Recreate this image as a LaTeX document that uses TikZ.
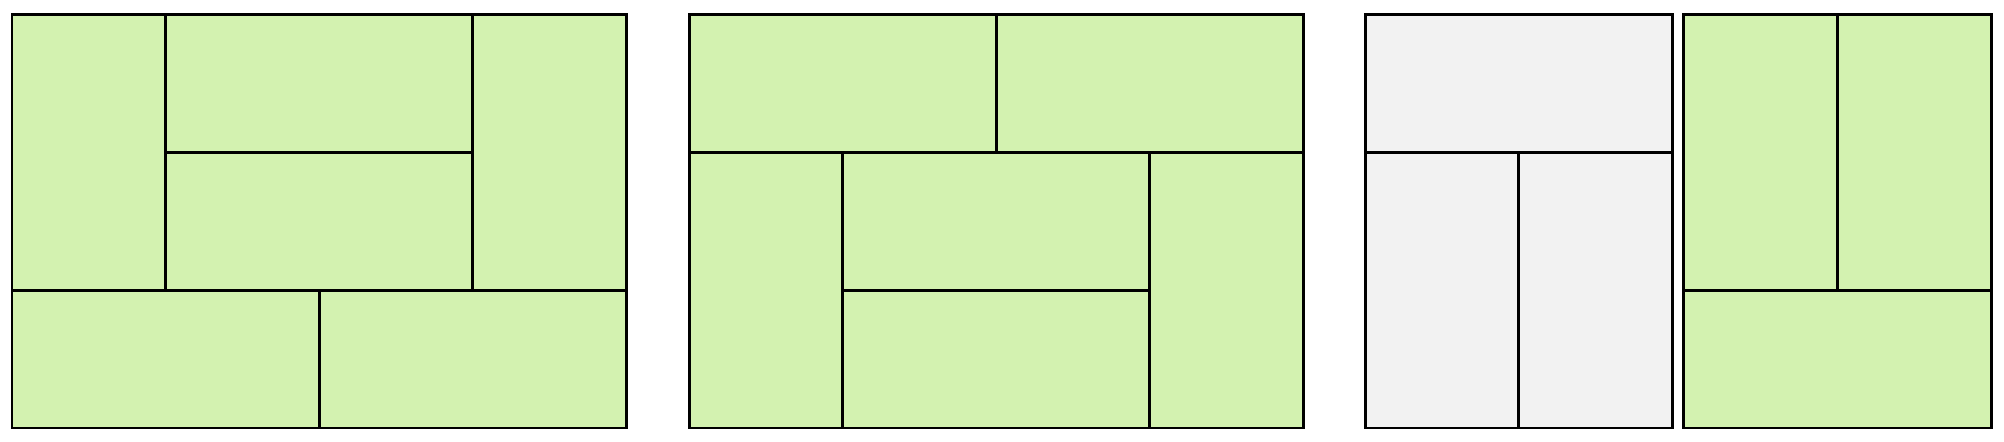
\documentclass[tikz,border=0pt]{standalone}
\usepackage{tikz}

\definecolor{tilegreen}{HTML}{D3F2B0}
\definecolor{tilegray}{HTML}{F2F2F2}

\begin{document}
\begin{tikzpicture}[
  x=3.072cm, y=2.754cm,
  tile/.style={draw=black, line width=1.7pt, fill=tilegreen},
  grey tile/.style={tile, fill=tilegray}
]
\useasboundingbox (-0.24cm,-0.26cm) rectangle ++(40.08cm,8.82cm);

% board 1
\begin{scope}[shift={(0,0)}]
  \foreach \xa/\ya/\xb/\yb in {0/1/1/3, 1/2/3/3, 1/1/3/2, 3/1/4/3, 0/0/2/1, 2/0/4/1}
    \draw[tile] (\xa,\ya) rectangle (\xb,\yb);
\end{scope}

% board 2
\begin{scope}[shift={(4.408,0)}]
  \foreach \xa/\ya/\xb/\yb in {0/2/2/3, 2/2/4/3, 0/0/1/2, 1/1/3/2, 1/0/3/1, 3/0/4/2}
    \draw[tile] (\xa,\ya) rectangle (\xb,\yb);
\end{scope}

% board 3
\begin{scope}[shift={(8.809,0)}]
  \foreach \xa/\ya/\xb/\yb in {0/2/2/3, 0/0/1/2, 1/0/2/2}
    \draw[grey tile] (\xa,\ya) rectangle (\xb,\yb);
\end{scope}

% board 4
\begin{scope}[shift={(10.885,0)}]
  \foreach \xa/\ya/\xb/\yb in {0/1/1/3, 1/1/2/3, 0/0/2/1}
    \draw[tile] (\xa,\ya) rectangle (\xb,\yb);
\end{scope}

\end{tikzpicture}
\end{document}
